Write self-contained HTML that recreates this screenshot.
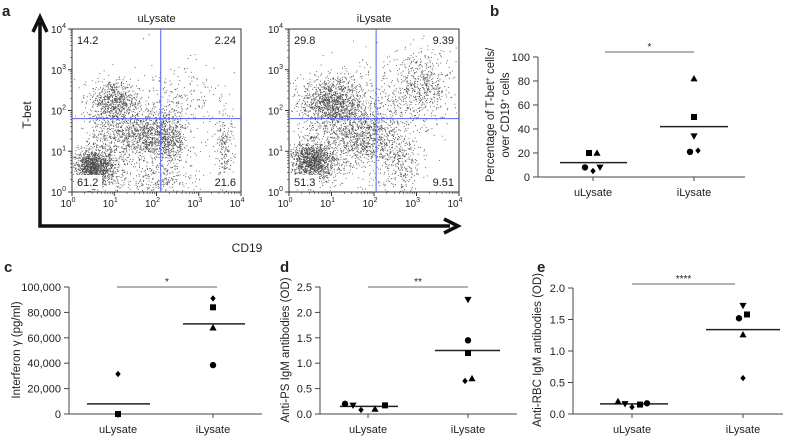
<!DOCTYPE html>
<html><head><meta charset="utf-8"><style>
body{margin:0;background:#fff}
svg{display:block;font-family:"Liberation Sans",sans-serif}
text{fill:#222}
</style></head><body>
<svg id="fig" width="799" height="436" viewBox="0 0 799 436" xmlns="http://www.w3.org/2000/svg">
<text x="2" y="16" font-size="15" font-weight="bold">a</text>
<text x="490" y="16" font-size="15" font-weight="bold">b</text>
<text x="4" y="272" font-size="15" font-weight="bold">c</text>
<text x="280" y="272" font-size="15" font-weight="bold">d</text>
<text x="537" y="272" font-size="15" font-weight="bold">e</text>
<g>
<path d="M40,22 L40,226 L450,226" fill="none" stroke="#111" stroke-width="3.5"/>
<path d="M33,32 L40,17 L47,32" fill="none" stroke="#111" stroke-width="3.5"/>
<path d="M444,219 L458,226 L444,233" fill="none" stroke="#111" stroke-width="3.5"/>
<text x="31" y="115" font-size="12" text-anchor="middle" transform="rotate(-90 31 115)">T-bet</text>
<text x="247" y="252" font-size="12" text-anchor="middle">CD19</text>
</g>
<g id="flows"></g>
<g id="dots"></g>
</svg>
<script>
const NS="http://www.w3.org/2000/svg";
const svg=document.getElementById('fig');
function el(tag,attrs,parent){const e=document.createElementNS(NS,tag);for(const k in attrs)e.setAttribute(k,attrs[k]);(parent||svg).appendChild(e);return e;}

// ---------- Flow cytometry panels ----------
const flowTitles=["uLysate","iLysate"];
const flowQuadU=["14.2","2.24","61.2","21.6"];
const flowQuadI=["29.8","9.39","51.3","9.51"];
// cluster: [logX, logY, sdX, sdY, count]
const clustersU=[[0.5,0.6,0.25,0.22,1400],[1.0,2.25,0.28,0.25,600],[1.7,1.4,0.35,0.3,850],[2.3,1.3,0.22,0.45,550],[0.9,1.5,0.3,0.6,500],[2.5,2.2,0.55,0.55,220],[3.6,1.0,0.12,0.5,220],[2.0,0.3,0.6,0.2,250]];
const clustersI=[[0.55,0.75,0.28,0.25,1400],[1.0,2.2,0.35,0.3,1100],[1.7,1.4,0.35,0.35,750],[2.6,0.7,0.25,0.5,350],[3.1,2.6,0.35,0.45,550],[1.3,1.7,0.6,0.7,550],[2.4,2.0,0.6,0.6,250]];
const flowBoxes=[{x0:72,x1:241,y0:29,y1:192,qx:2.1,qy:1.8},{x0:289,x1:459,y0:29,y1:192,qx:2.05,qy:1.8}];
let seed=12345;function rnd(){seed=(seed*1103515245+12345)%2147483648;return seed/2147483648;}
function gauss(){let u=rnd()||1e-6,v=rnd();return Math.sqrt(-2*Math.log(u))*Math.cos(2*Math.PI*v);}
const fg=document.getElementById('flows');
[clustersU,clustersI].forEach((cl,i)=>{
  const b=flowBoxes[i];const quads=i?flowQuadI:flowQuadU;
  const sx=v=>b.x0+(b.x1-b.x0)*v/4, sy=v=>b.y1-(b.y1-b.y0)*v/4;
  const g=el('g',{},fg);
  
  
  let d='';
  cl.forEach(c=>{for(let k=0;k<c[4];k++){let x=c[0]+gauss()*c[2],y=c[1]+gauss()*c[3];if(x<0.02||x>3.98||y<0.02||y>3.98)continue;d+='M'+sx(x).toFixed(1)+','+sy(y).toFixed(1)+'h0.9v0.9h-0.9z';}});
  el('path',{d:d,fill:'#000','fill-opacity':0.7},g);
  el('rect',{x:b.x0,y:b.y0,width:b.x1-b.x0,height:b.y1-b.y0,fill:'none',stroke:'#333','stroke-width':1},g);
  el('line',{x1:sx(b.qx),x2:sx(b.qx),y1:b.y0,y2:b.y1,stroke:'#5560ee','stroke-width':1},g);
  el('line',{x1:b.x0,x2:b.x1,y1:sy(b.qy),y2:sy(b.qy),stroke:'#5560ee','stroke-width':1},g);
  const t=el('text',{x:(b.x0+b.x1)/2,y:22,'font-size':11,'text-anchor':'middle'},g);t.textContent=flowTitles[i];
  
  
  const pos=[[b.x0+5,b.y0+15,'start'],[b.x1-5,b.y0+15,'end'],[b.x0+5,b.y1-6,'start'],[b.x1-5,b.y1-6,'end']];
  pos.forEach((p,j)=>{el('rect',{x:p[2]=='start'?p[0]-3:p[0]-25,y:p[1]-11,width:28,height:14,fill:'#fff'},g);const q=el('text',{x:p[0],y:p[1],'font-size':11,'text-anchor':p[2]},g);q.textContent=quads[j];
    
    });
  for(let e=0;e<=4;e++){
    const tx=el('text',{x:sx(e)-4,y:b.y1+15,'font-size':10,'text-anchor':'middle'},g);tx.innerHTML='10<tspan dy="-5" font-size="7">'+e+'</tspan>';
    
    
    const ty=el('text',{x:b.x0-6,y:sy(e)+4,'font-size':10,'text-anchor':'end'},g);ty.innerHTML='10<tspan dy="-5" font-size="7">'+e+'</tspan>';
    
    
    el('line',{x1:sx(e),x2:sx(e),y1:b.y1,y2:b.y1+4,stroke:'#333'},g);
    el('line',{x1:b.x0-4,x2:b.x0,y1:sy(e),y2:sy(e),stroke:'#333'},g);
    if(e<4)for(let m=2;m<10;m++){const v=e+Math.log10(m);
      el('line',{x1:sx(v),x2:sx(v),y1:b.y1,y2:b.y1+2,stroke:'#333','stroke-width':0.6},g);
      el('line',{x1:b.x0-2,x2:b.x0,y1:sy(v),y2:sy(v),stroke:'#333','stroke-width':0.6},g);}
  }
});

// ---------- Dot plots ----------
const categories=["uLysate","iLysate"];
const bTicks=["0","20","40","60","80","100"];
const bU=[["square",20],["triangle",20],["circle",8],["diamond",5],["down",8]];
const bI=[["triangle",82],["square",50],["down",34],["circle",21],["diamond",22]];
const bMeans=[12,42];
const cTicks=["0","20,000","40,000","60,000","80,000","100,000"];
const cU=[["diamond",31500],["square",0]];
const cI=[["diamond",91000],["square",84000],["triangle",68000],["circle",38500]];
const cMeans=[8000,71000];
const dTicks=["0.0","0.5","1.0","1.5","2.0","2.5"];
const dU=[["circle",0.2],["down",0.17],["diamond",0.08],["triangle",0.1],["square",0.17]];
const dI=[["down",2.25],["circle",1.45],["square",1.2],["diamond",0.65],["triangle",0.7]];
const dMeans=[0.15,1.25];
const eTicks=["0.0","0.5","1.0","1.5","2.0"];
const eU=[["triangle",0.2],["down",0.16],["diamond",0.11],["square",0.15],["circle",0.17]];
const eI=[["down",1.72],["circle",1.52],["square",1.58],["triangle",1.26],["diamond",0.57]];
const eMeans=[0.16,1.34];

const dg=document.getElementById('dots');
function marker(shape,x,y,g){
  let m;
  if(shape=='square')m=el('rect',{x:x-3,y:y-3,width:6,height:6},g);
  else if(shape=='circle')m=el('circle',{cx:x,cy:y,r:3.2},g);
  else if(shape=='triangle')m=el('path',{d:`M${x},${y-3.6}L${x+3.6},${y+2.8}L${x-3.6},${y+2.8}Z`},g);
  else if(shape=='down')m=el('path',{d:`M${x-3.6},${y-2.8}L${x+3.6},${y-2.8}L${x},${y+3.6}Z`},g);
  else m=el('path',{d:`M${x},${y-3.2}L${x+2.7},${y}L${x},${y+3.2}L${x-2.7},${y}Z`},g);
  m.setAttribute('fill','#000');
  
  
}
function dotPlot(o){
  const g=el('g',{},dg);
  
  
  const ymaxV=parseFloat(o.ticks[o.ticks.length-1].replace(/,/g,''));
  const sy=v=>o.y0-(o.y0-o.yTop)*v/ymaxV;
  el('line',{x1:o.ax,x2:o.ax,y1:o.yTop,y2:o.y0,stroke:'#444'},g);
  el('line',{x1:o.ax,x2:o.xEnd,y1:o.y0,y2:o.y0,stroke:'#444'},g);
  o.ticks.forEach(t=>{const v=parseFloat(t.replace(/,/g,''));const y=sy(v);
    el('line',{x1:o.ax-5,x2:o.ax,y1:y,y2:y,stroke:'#444'},g);
    const tx=el('text',{x:o.ax-8,y:y+4,'font-size':11,'text-anchor':'end'},g);tx.textContent=t;
    
    });
  categories.forEach((c,i)=>{const x=o.cx[i];
    el('line',{x1:x,x2:x,y1:o.y0,y2:o.y0+4,stroke:'#444'},g);
    const tx=el('text',{x:x,y:o.y0+19,'font-size':11,'text-anchor':'middle'},g);tx.textContent=c;
    
    
    const ml=el('line',{x1:x-o.mw[i][0],x2:x+o.mw[i][1],y1:sy(o.means[i]),y2:sy(o.means[i]),stroke:'#222','stroke-width':1.5},g);
    
    
    const pts=i?o.iv:o.uv;const offs=i?o.io:o.uo;
    pts.forEach((p,k)=>marker(p[0],x+offs[k],sy(p[1]),g));
  });
  const sb=el('line',{x1:o.sig[0],x2:o.sig[1],y1:o.sig[2],y2:o.sig[2],stroke:'#666'},g);
  
  
  const st=el('text',{x:(o.sig[0]+o.sig[1])/2,y:o.sig[2]-2,'font-size':10,'text-anchor':'middle'},g);st.textContent=o.stars;
  
  
  o.label.forEach((l,j)=>{const lx=o.lx+j*15;const t=el('text',{x:lx,y:o.ly,'font-size':11.5,'text-anchor':'middle',transform:`rotate(-90 ${lx} ${o.ly})`},g);t.innerHTML=l;
    
    });
}
dotPlot({name:'panel-b-tbet-percent',ticks:bTicks,uv:bU,iv:bI,means:bMeans,ax:538,xEnd:745,y0:177,yTop:57,cx:[593,694],
  uo:[-4,4,-8,0,7],io:[0,0,0,-4,4],mw:[[33,34],[34,34]],sig:[605,694,52],stars:'*',
  label:['Percentage of T-bet<tspan dy="-4" font-size="7">+</tspan><tspan dy="4"> cells/</tspan>','over CD19<tspan dy="-4" font-size="7">+</tspan><tspan dy="4"> cells</tspan>'],lx:494,ly:115});
dotPlot({name:'panel-c-interferon',ticks:cTicks,uv:cU,iv:cI,means:cMeans,ax:69,xEnd:262,y0:414,yTop:287,cx:[118,213],
  uo:[0,0],io:[0,0,0,0],mw:[[31,32],[30,32]],sig:[117,217,287],stars:'*',
  label:['Interferon γ (pg/ml)'],lx:20,ly:350});
dotPlot({name:'panel-d-anti-ps',ticks:dTicks,uv:dU,iv:dI,means:dMeans,ax:320,xEnd:517,y0:414,yTop:287,cx:[368,468],
  uo:[-23,-15,-7,7,17],io:[0,0,0,-3,4],mw:[[28,30],[33,32]],sig:[368,468,287],stars:'**',
  label:['Anti-PS IgM antibodies (OD)'],lx:289,ly:350});
dotPlot({name:'panel-e-anti-rbc',ticks:eTicks,uv:eU,iv:eI,means:eMeans,ax:573,xEnd:783,y0:414,yTop:288,cx:[632,743],
  uo:[-14,-7,0,8,15],io:[0,-4,4,0,0],mw:[[32,36],[37,37]],sig:[632,735,284],stars:'****',
  label:['Anti-RBC IgM antibodies (OD)'],lx:541,ly:350});
</script>
</body></html>
